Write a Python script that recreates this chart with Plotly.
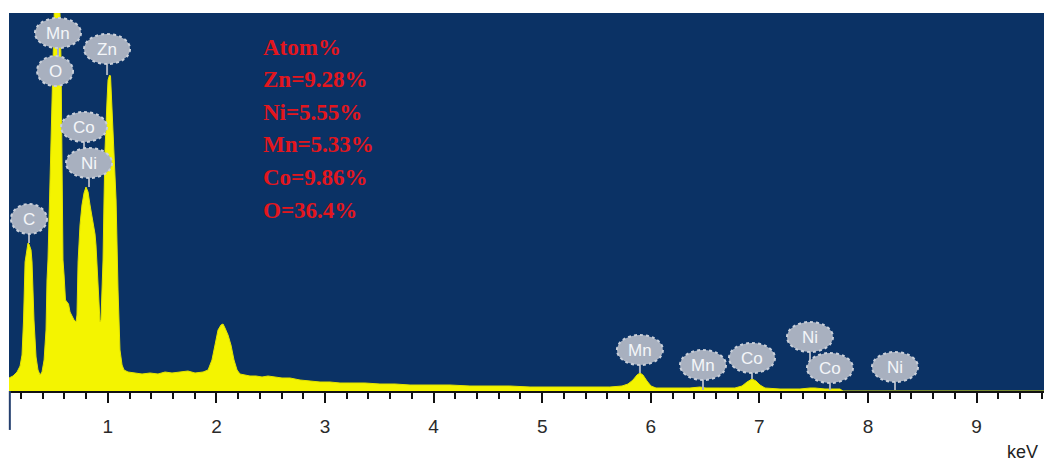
import plotly.graph_objects as go

# Spectrum (energy in keV, counts in arbitrary units)
energy_kev = [
    0.090, 0.127, 0.164, 0.192, 0.210, 0.224, 0.238, 0.256, 0.265, 0.274, 0.293, 0.302,
    0.320, 0.339, 0.357, 0.376, 0.394, 0.413, 0.431, 0.440, 0.449, 0.468, 0.486, 0.495,
    0.514, 0.541, 0.560, 0.569, 0.574, 0.583, 0.587, 0.597, 0.610, 0.624, 0.638, 0.652,
    0.670, 0.689, 0.707, 0.716, 0.726, 0.744, 0.762, 0.781, 0.799, 0.818, 0.836, 0.855,
    0.873, 0.882, 0.891, 0.900, 0.910, 0.919, 0.928, 0.937, 0.947, 0.956, 0.965, 0.974,
    0.993, 1.002, 1.016, 1.025, 1.039, 1.057, 1.076, 1.094, 1.112, 1.131, 1.149, 1.186,
    1.250, 1.315, 1.389, 1.462, 1.527, 1.591, 1.665, 1.738, 1.803, 1.877, 1.923, 1.959,
    1.987, 2.015, 2.042, 2.061, 2.079, 2.107, 2.134, 2.162, 2.190, 2.217, 2.263, 2.309,
    2.365, 2.420, 2.475, 2.540, 2.604, 2.678, 2.770, 2.862, 2.954, 3.046, 3.138, 3.230,
    3.368, 3.506, 3.645, 3.783, 3.967, 4.151, 4.335, 4.519, 4.703, 4.888, 5.072, 5.256,
    5.440, 5.624, 5.735, 5.790, 5.836, 5.873, 5.901, 5.928, 5.965, 6.002, 6.048, 6.177,
    6.361, 6.453, 6.508, 6.637, 6.775, 6.840, 6.886, 6.932, 6.969, 7.006, 7.052, 7.190,
    7.374, 7.466, 7.512, 7.604, 7.742, 7.770, 7.790, 9.700,
]
counts = [
    130, 150, 190, 250, 360, 710, 1290, 1460, 1480, 1470, 1410, 1290,
    710, 340, 210, 160, 190, 310, 610, 1110, 1310, 2110, 2910, 3510,
    4100, 4100, 3760, 3310, 2900, 1900, 1310, 1160, 910, 890, 870, 790,
    750, 710, 690, 760, 1290, 1660, 1860, 1980, 2040, 1990, 1860, 1730,
    1610, 1570, 1460, 1290, 1060, 860, 690, 710, 1010, 1310, 1910, 2410,
    2910, 3110, 3160, 3150, 2810, 2410, 1910, 1010, 410, 260, 210, 190,
    180, 170, 180, 170, 190, 180, 190, 200, 180, 190, 210, 310,
    460, 610, 660, 670, 630, 560, 460, 310, 210, 170, 160, 150,
    150, 140, 150, 140, 130, 130, 110, 100, 90, 90, 80, 80,
    80, 70, 70, 60, 60, 60, 50, 50, 50, 40, 40, 40,
    40, 40, 50, 70, 110, 160, 180, 160, 100, 50, 30, 30,
    30, 40, 30, 30, 30, 50, 90, 120, 100, 60, 30, 20,
    20, 30, 30, 20, 20, 0, 0, 0,
]

# Peak labels: element, label position (keV, counts), stem end (counts)
label_text = ["C", "Mn", "O", "Zn", "Co", "Ni", "Mn", "Mn", "Co", "Ni", "Co", "Ni"]
label_kev = [0.274, 0.541, 0.514, 0.993, 0.781, 0.827, 5.90, 6.481, 6.932, 7.466, 7.65, 8.249]
label_counts = [1720, 3580, 3200, 3420, 2640, 2280, 410, 260, 330, 540, 230, 240]
stem_end = [1480, 3200, 3200, 3160, 2280, 2040, 180, 10, 120, 230, 10, 10]

# Composition box
comp_title = "Atom%"
comp_elements = ["Zn", "Ni", "Mn", "Co", "O"]
comp_values = ["9.28", "5.55", "5.33", "9.86", "36.4"]

x_ticks = [1, 2, 3, 4, 5, 6, 7, 8, 9]

BG = "#0b3265"
YEL = "#f4f400"
BUB = "#a8b0bf"

fig = go.Figure()
fig.add_trace(go.Scatter(
    x=energy_kev, y=counts, mode="lines", fill="tozeroy",
    fillcolor=YEL, line=dict(color="#e4e400", width=1), hoverinfo="skip",
    showlegend=False,
))

shapes = []
annotations = []
for t, xk, yc, ys in zip(label_text, label_kev, label_counts, stem_end):
    shapes.append(dict(type="line", xref="x", yref="y", x0=xk, x1=xk, y0=ys, y1=yc,
                       line=dict(color=BUB, width=2), layer="above"))
for t, xk, yc in zip(label_text, label_kev, label_counts):
    hw = 18 if len(t) == 1 else 23
    shapes.append(dict(type="circle", xref="x", yref="y",
                       xsizemode="pixel", ysizemode="pixel",
                       xanchor=xk, yanchor=yc, x0=-hw, x1=hw, y0=-15, y1=15,
                       fillcolor=BUB, line=dict(color="#c9cfd9", width=2, dash="dot"),
                       layer="above"))
    annotations.append(dict(x=xk, y=yc, xref="x", yref="y", text=t, showarrow=False,
                            font=dict(family="Arial, Liberation Sans", size=17, color="#f4f6f9"),
                            xanchor="center", yanchor="middle"))

# left axis stub below the plot
shapes.append(dict(type="line", xref="paper", yref="paper", x0=0.0008, x1=0.0008,
                   y0=0, y1=-0.103, line=dict(color="#243f6e", width=2)))

comp_lines = [comp_title] + [f"{e}={v}%" for e, v in zip(comp_elements, comp_values)]
for i, line in enumerate(comp_lines):
    annotations.append(dict(xref="paper", yref="paper", x=0.2435, y=(391 - 47 - 32.6 * i) / 378,
                            text=f"<b>{line}</b>", showarrow=False, xanchor="left", yanchor="middle",
                            font=dict(family="Liberation Serif, Times New Roman, serif", size=23,
                                      color="#e3161d")))

annotations.append(dict(xref="paper", yref="paper", x=0.962, y=-0.161, text="keV",
                        showarrow=False, xanchor="left", yanchor="middle",
                        font=dict(family="Arial, Liberation Sans", size=18, color="#222222")))

fig.update_layout(
    width=1044, height=464,
    margin=dict(l=9, r=0, t=13, b=73),
    paper_bgcolor="white", plot_bgcolor=BG,
    shapes=shapes, annotations=annotations,
    xaxis=dict(range=[0.090, 9.621], tickvals=x_ticks, ticktext=[str(v) for v in x_ticks],
               ticks="outside", ticklen=10, tickwidth=1.5, tickcolor="#111111",
               minor=dict(dtick=0.2, tick0=0, ticks="outside", ticklen=6, tickwidth=1.5,
                          tickcolor="#111111", showgrid=False),
               showline=True, linecolor="#111111", linewidth=2,
               showgrid=False, zeroline=False, ticklabelstandoff=7,
               tickfont=dict(family="Arial, Liberation Sans", size=19, color="#2a2a2a")),
    yaxis=dict(range=[0, 3780], visible=False, showgrid=False, zeroline=False),
)

fig.write_html("out.html", config={"displayModeBar": False},
               post_script="document.body.style.margin='0px';document.body.style.overflow='hidden';")
